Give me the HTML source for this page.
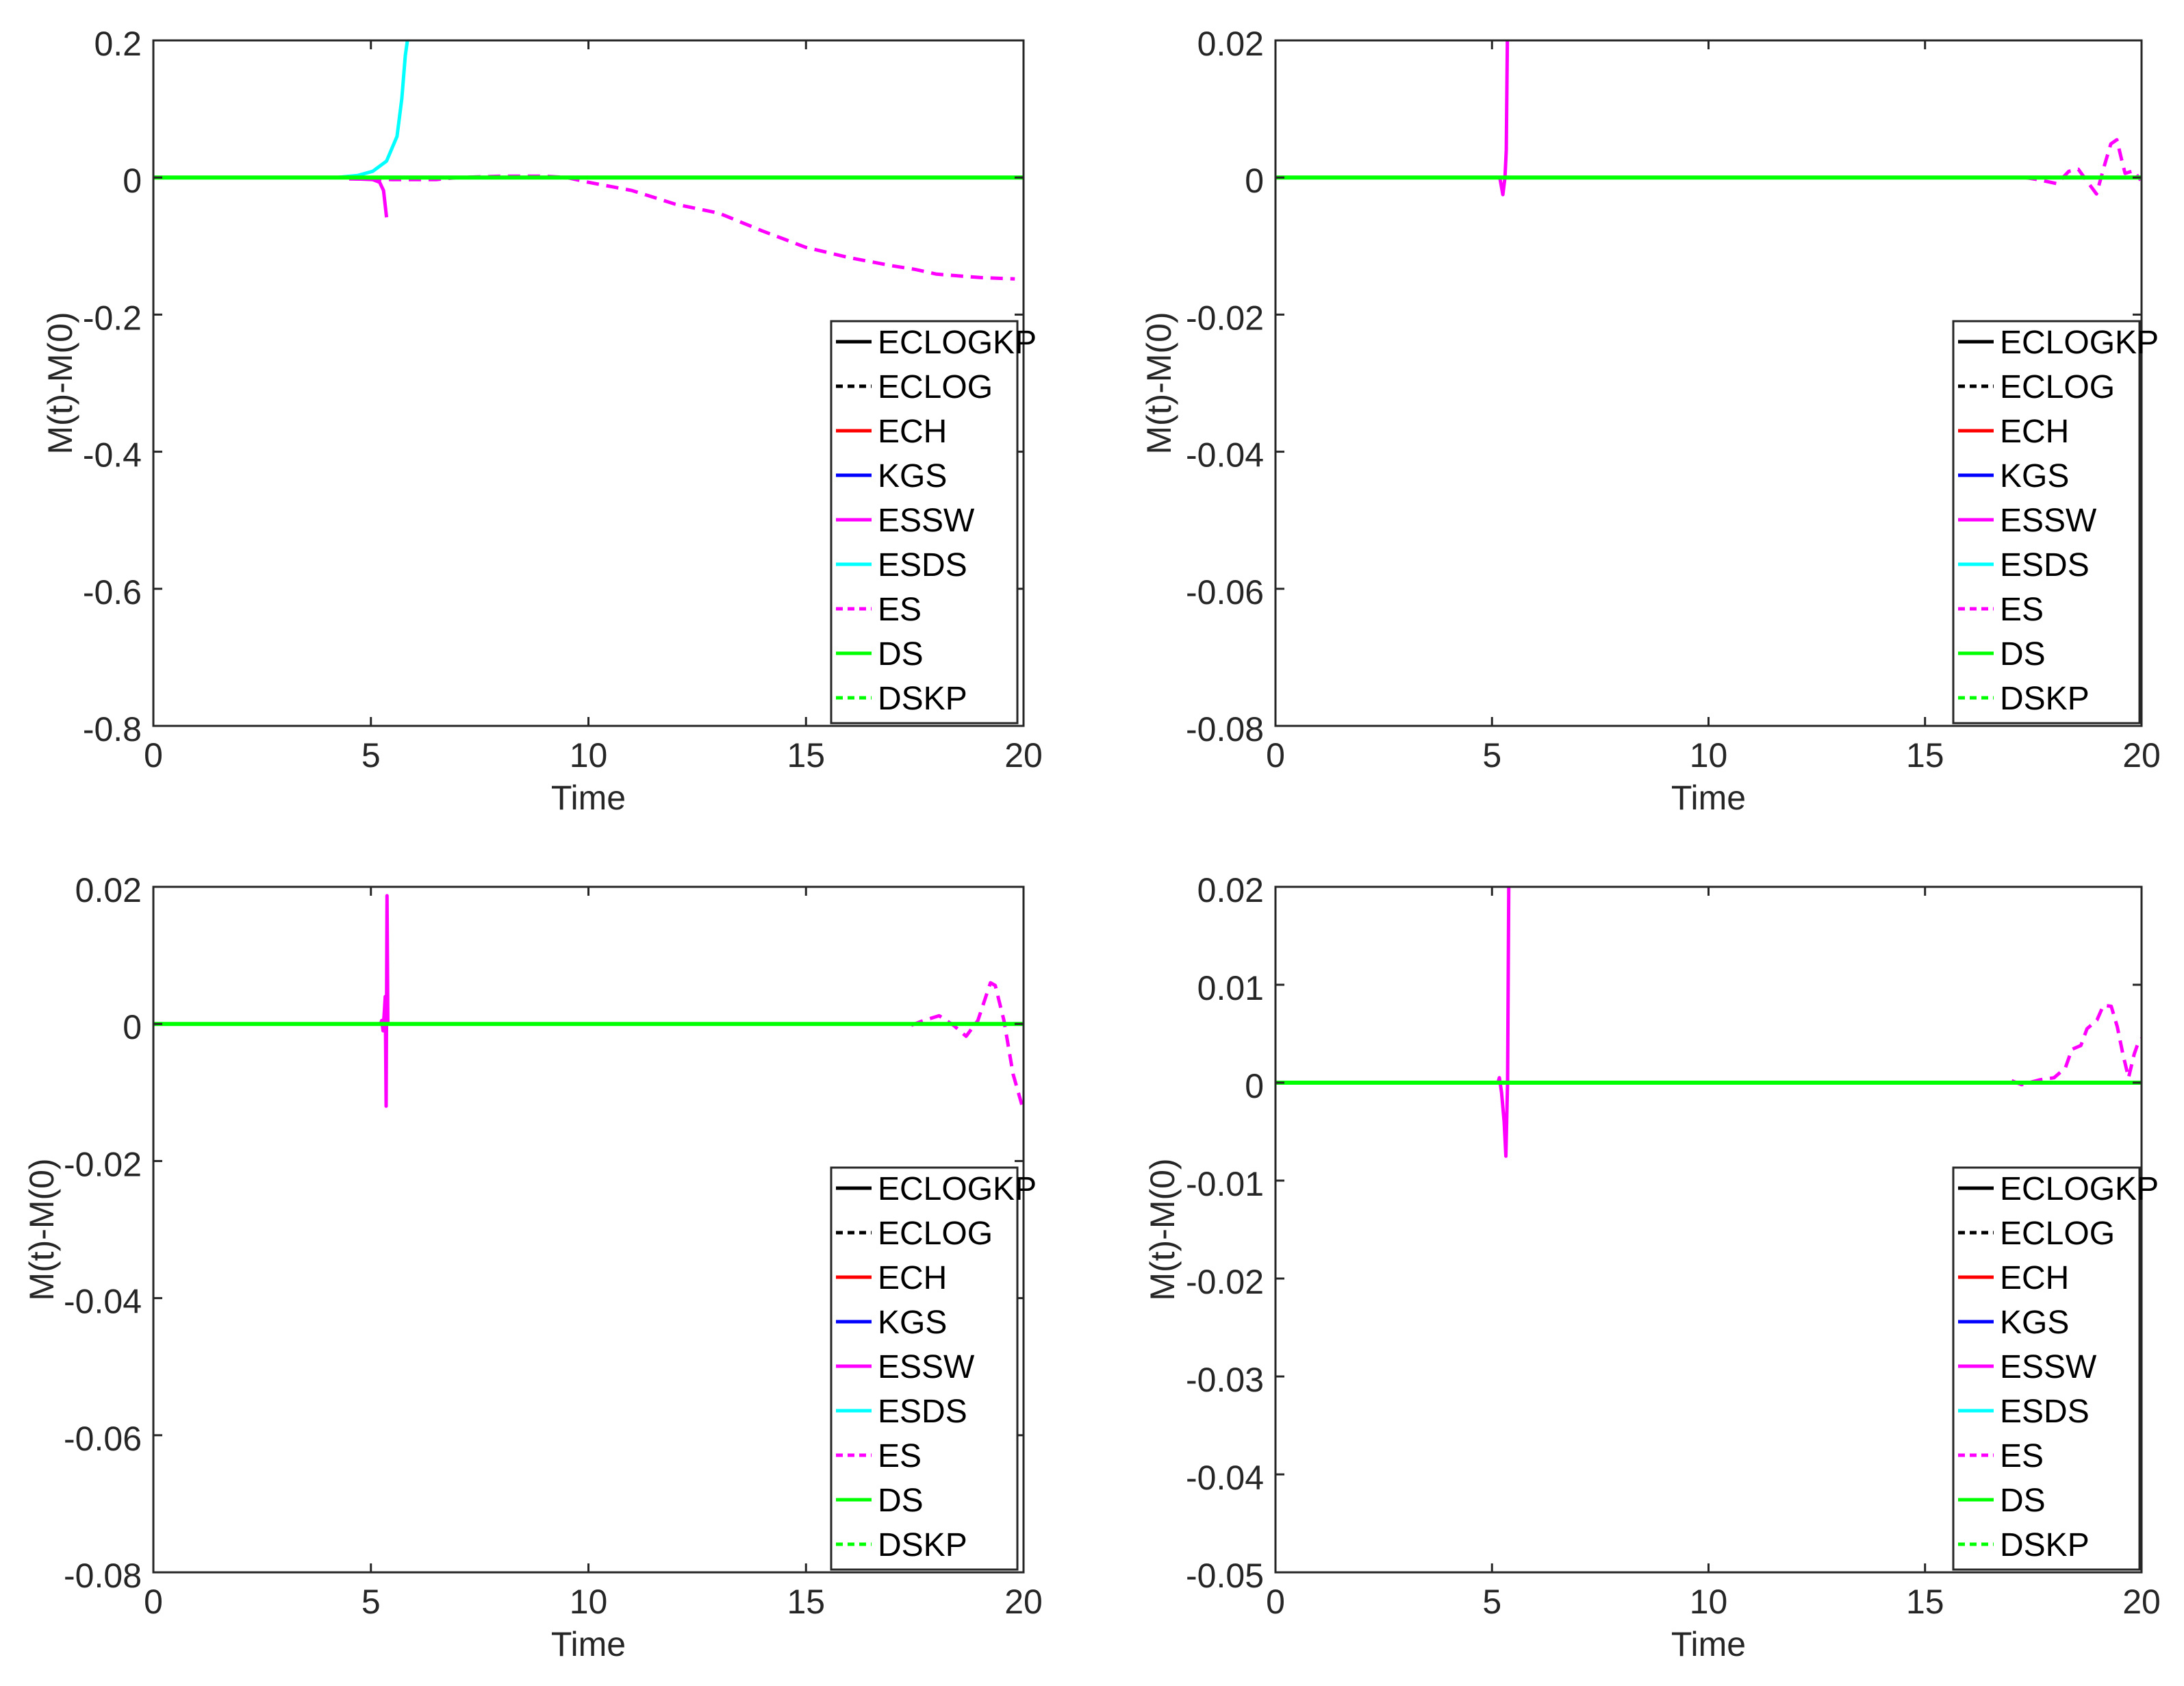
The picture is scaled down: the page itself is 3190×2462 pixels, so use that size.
<!DOCTYPE html>
<html><head><meta charset="utf-8">
<style>
html,body{margin:0;padding:0;background:#fff;}
svg{display:block;font-family:"Liberation Sans",Arial,sans-serif;}
</style></head>
<body>
<svg id="fig" width="3190" height="2462" viewBox="0 0 3190 2462" xmlns="http://www.w3.org/2000/svg"></svg>
<script>
// ---- data (top-level arrays) ----
const legendNames = ["ECLOGKP","ECLOG","ECH","KGS","ESSW","ESDS","ES","DS","DSKP"];
const legendColors = ["#000","#000","#f00","#00f","#f0f","#0ff","#f0f","#0f0","#0f0"];
const legendDashed = [false,true,false,false,false,false,true,false,true];

const xTicks = [0,5,10,15,20];
const yTicksA = [0.2,0,-0.2,-0.4,-0.6,-0.8];
const yTickLabelsA = ["0.2","0","-0.2","-0.4","-0.6","-0.8"];
const yTicksB = [0.02,0,-0.02,-0.04,-0.06,-0.08];
const yTickLabelsB = ["0.02","0","-0.02","-0.04","-0.06","-0.08"];
const yTicksD = [0.02,0.01,0,-0.01,-0.02,-0.03,-0.04,-0.05];
const yTickLabelsD = ["0.02","0.01","0","-0.01","-0.02","-0.03","-0.04","-0.05"];

// panel A (top-left)
const dsT = [0,20];
const dsV = [0,0];
const aEsdsT = [4.2,4.7,5.04,5.36,5.6,5.71,5.79,5.84,5.9];
const aEsdsV = [0,0.003,0.009,0.024,0.06,0.115,0.178,0.2,0.25];
const aEsswT = [4.5,5.04,5.2,5.29,5.36];
const aEsswV = [-0.0016,-0.003,-0.007,-0.019,-0.058];
const aEsT = [4.5,5.5,6.5,7,8,9,9.5,10,11,12,13,14,15,16,17,17.5,18,19,19.8];
const aEsV = [-0.002,-0.003,-0.003,0,0.002,0.002,0,-0.007,-0.019,-0.039,-0.052,-0.078,-0.102,-0.117,-0.129,-0.134,-0.141,-0.146,-0.148];

// panel B (top-right)
const bEsswT = [5.18,5.25,5.3,5.33,5.37,5.4];
const bEsswV = [0,-0.0025,0,0.004,0.03,0.03];
const bEsT = [17.3,17.6,18.05,18.32,18.54,18.77,18.96,19.15,19.29,19.43,19.54,19.62,19.82,19.98];
const bEsV = [0,-0.0003,-0.0009,0.0009,0.0012,-0.0008,-0.0024,0.0019,0.0049,0.0055,0.0026,0.0006,0.001,-0.0004];

// panel C (bottom-left)
const cEsswT = [5.22,5.25,5.28,5.31,5.33,5.35,5.37,5.39];
const cEsswV = [0,0.0005,-0.001,0.002,0.004,-0.012,0.0187,0];
const cEsT = [17.42,17.66,18.06,18.39,18.68,18.95,19.24,19.35,19.55,19.76,19.97];
const cEsV = [-0.0002,0.0004,0.0012,-0.0002,-0.0018,0.0005,0.006,0.0056,0.0005,-0.0073,-0.012];

// panel D (bottom-right)
const dEsswT = [5.14,5.17,5.22,5.28,5.32,5.36,5.4];
const dEsswV = [0,0.0005,-0.001,-0.004,-0.0075,0,0.03];
const dEsT = [17.0,17.23,17.66,17.98,18.24,18.39,18.6,18.74,18.97,19.12,19.3,19.44,19.57,19.7,19.83,19.94,20];
const dEsV = [0.0002,-0.0002,0.0003,0.0005,0.0015,0.0034,0.0038,0.0055,0.0064,0.0079,0.0078,0.0057,0.0029,0.0005,0.0029,0.0043,0.0045];

const NS = "http://www.w3.org/2000/svg";
const svg = document.getElementById('fig');
function mk(tag, attrs, parent){
  const e = document.createElementNS(NS, tag);
  for (const k in attrs) e.setAttribute(k, attrs[k]);
  (parent||svg).appendChild(e);
  return e;
}

function panel(id, box, yMin, yMax, yTicks, yLabels, series, ylabX){
  const g = mk('g', {});
  
  
  const L = box[0], R = box[1], T = box[2], B = box[3];
  const sx = t => L + (t - 0) / 20 * (R - L);
  const sy = v => T + (yMax - v) / (yMax - yMin) * (B - T);
  const cid = 'clip-' + id;
  const defs = mk('defs', {}, g);
  const cp = mk('clipPath', {id: cid}, defs);
  mk('rect', {x: L, y: T, width: R - L, height: B - T}, cp);

  const plot = mk('g', {'clip-path': 'url(#' + cid + ')'}, g);
  
  
  series.forEach(s => {
    const pts = s.t.map((t, i) => sx(t).toFixed(1) + ',' + sy(s.v[i]).toFixed(1)).join(' ');
    const pl = mk('polyline', {points: pts, fill: 'none', stroke: s.color, 'stroke-width': s.w || 5, 'stroke-linejoin': 'round'}, plot);
    if (s.dash) pl.setAttribute('stroke-dasharray', '18,11');
    
    
  });

  const fr = mk('rect', {x: L, y: T, width: R - L, height: B - T, fill: 'none', stroke: '#262626', 'stroke-width': 3}, g);
  
  

  xTicks.forEach(t => {
    const x = sx(t);
    mk('line', {x1: x, x2: x, y1: B, y2: B - 13, stroke: '#262626', 'stroke-width': 3}, g);
    mk('line', {x1: x, x2: x, y1: T, y2: T + 13, stroke: '#262626', 'stroke-width': 3}, g);
    const tx = mk('text', {x: x, y: B + 60, 'font-size': 50, 'text-anchor': 'middle', fill: '#262626'}, g);
    tx.textContent = String(t);
    
    
  });
  yTicks.forEach((v, i) => {
    const y = sy(v);
    mk('line', {x1: L, x2: L + 13, y1: y, y2: y, stroke: '#262626', 'stroke-width': 3}, g);
    mk('line', {x1: R, x2: R - 13, y1: y, y2: y, stroke: '#262626', 'stroke-width': 3}, g);
    const tx = mk('text', {x: L - 17, y: y + 22, 'font-size': 50, 'text-anchor': 'end', fill: '#262626'}, g);
    tx.textContent = yLabels[i];
    
    
  });
  const xt = mk('text', {x: (L + R) / 2, y: B + 122, 'font-size': 50, 'text-anchor': 'middle', fill: '#262626'}, g);
  xt.textContent = 'Time';
  
  
  const cy = (T + B) / 2;
  const yt = mk('text', {x: ylabX, y: cy, 'font-size': 50, 'text-anchor': 'middle', fill: '#262626', transform: 'rotate(-90 ' + ylabX + ' ' + cy + ')', dy: 18}, g);
  yt.textContent = 'M(t)-M(0)';
  
  

  const lg = mk('g', {}, g);
  
  
  const lx = L + 990, ly = T + 410, lw = 272, lh = (B - 4) - ly;
  mk('rect', {x: lx, y: ly, width: lw, height: lh, fill: '#fff', stroke: '#262626', 'stroke-width': 3}, lg);
  legendNames.forEach((n, i) => {
    const y = ly + 30 + i * 65;
    const e = mk('g', {}, lg);
    
    
    const ln = mk('line', {x1: lx + 7, x2: lx + 59, y1: y, y2: y, stroke: legendColors[i], 'stroke-width': 5}, e);
    if (legendDashed[i]) ln.setAttribute('stroke-dasharray', '10,7');
    const tx = mk('text', {x: lx + 68, y: y + 17, 'font-size': 48, fill: '#000'}, e);
    tx.textContent = n;
  });
}

panel('top-left', [224, 1495, 59, 1060], -0.8, 0.2, yTicksA, yTickLabelsA, [
  {name: 'es', t: aEsT, v: aEsV, color: '#f0f', dash: true},
  {name: 'essw', t: aEsswT, v: aEsswV, color: '#f0f'},
  {name: 'esds', t: aEsdsT, v: aEsdsV, color: '#0ff'},
  {name: 'ds', t: dsT, v: dsV, color: '#0f0', w: 6}
], 87);

panel('top-right', [1863, 3128, 59, 1060], -0.08, 0.02, yTicksB, yTickLabelsB, [
  {name: 'es', t: bEsT, v: bEsV, color: '#f0f', dash: true},
  {name: 'essw', t: bEsswT, v: bEsswV, color: '#f0f'},
  {name: 'ds', t: dsT, v: dsV, color: '#0f0', w: 6}
], 1692);

panel('bottom-left', [224, 1495, 1295, 2296], -0.08, 0.02, yTicksB, yTickLabelsB, [
  {name: 'es', t: cEsT, v: cEsV, color: '#f0f', dash: true},
  {name: 'essw', t: cEsswT, v: cEsswV, color: '#f0f'},
  {name: 'ds', t: dsT, v: dsV, color: '#0f0', w: 6}
], 60);

panel('bottom-right', [1863, 3128, 1295, 2296], -0.05, 0.02, yTicksD, yTickLabelsD, [
  {name: 'es', t: dEsT, v: dEsV, color: '#f0f', dash: true},
  {name: 'essw', t: dEsswT, v: dEsswV, color: '#f0f'},
  {name: 'ds', t: dsT, v: dsV, color: '#0f0', w: 6}
], 1697);
</script>
</body></html>
